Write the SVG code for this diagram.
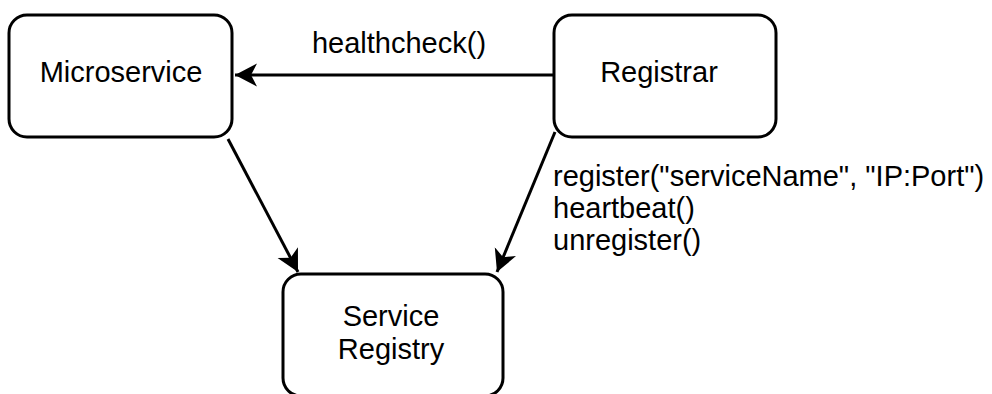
<svg xmlns="http://www.w3.org/2000/svg" width="992" height="394" viewBox="0 0 992 394">
<style>
.box{fill:#fff;stroke:#000;stroke-width:3}
.t{font-family:"Liberation Sans",Arial,Helvetica,sans-serif;font-size:29px;fill:#000}
.c{text-anchor:middle}
.edge{fill:none;stroke:#000;stroke-width:3}
</style>
<defs>
<marker id="arr" viewBox="0 0 24 24" refX="22" refY="12" markerWidth="24" markerHeight="24" markerUnits="userSpaceOnUse" orient="auto">
<path d="M22,12 L0,0.5 L6,12 L0,23.5 Z" fill="#000"/>
</marker>
</defs>
<rect width="992" height="394" fill="#fff"/>
<g id="connectors">
<path class="edge" d="M553,75 L235,75" marker-end="url(#arr)"/>
<path class="edge" d="M228,139 L298,272" marker-end="url(#arr)"/>
<path class="edge" d="M555,132 L497,272" marker-end="url(#arr)"/>
<text class="t c" x="399" y="53">healthcheck()</text>
<text class="t" x="553" y="186">register("serviceName", "IP:Port")</text>
<text class="t" x="553" y="218">heartbeat()</text>
<text class="t" x="553" y="250">unregister()</text>
</g>
<g id="microservice">
<rect class="box" x="9" y="15" width="223" height="122" rx="18"/>
<text class="t c" x="121" y="82">Microservice</text>
</g>
<g id="registrar">
<rect class="box" x="554" y="15" width="222" height="122" rx="18"/>
<text class="t c" x="659" y="82">Registrar</text>
</g>
<g id="service-registry">
<rect class="box" x="283" y="274" width="220" height="122" rx="18"/>
<text class="t c" x="391" y="326">Service</text>
<text class="t c" x="391" y="359">Registry</text>
</g>
</svg>
